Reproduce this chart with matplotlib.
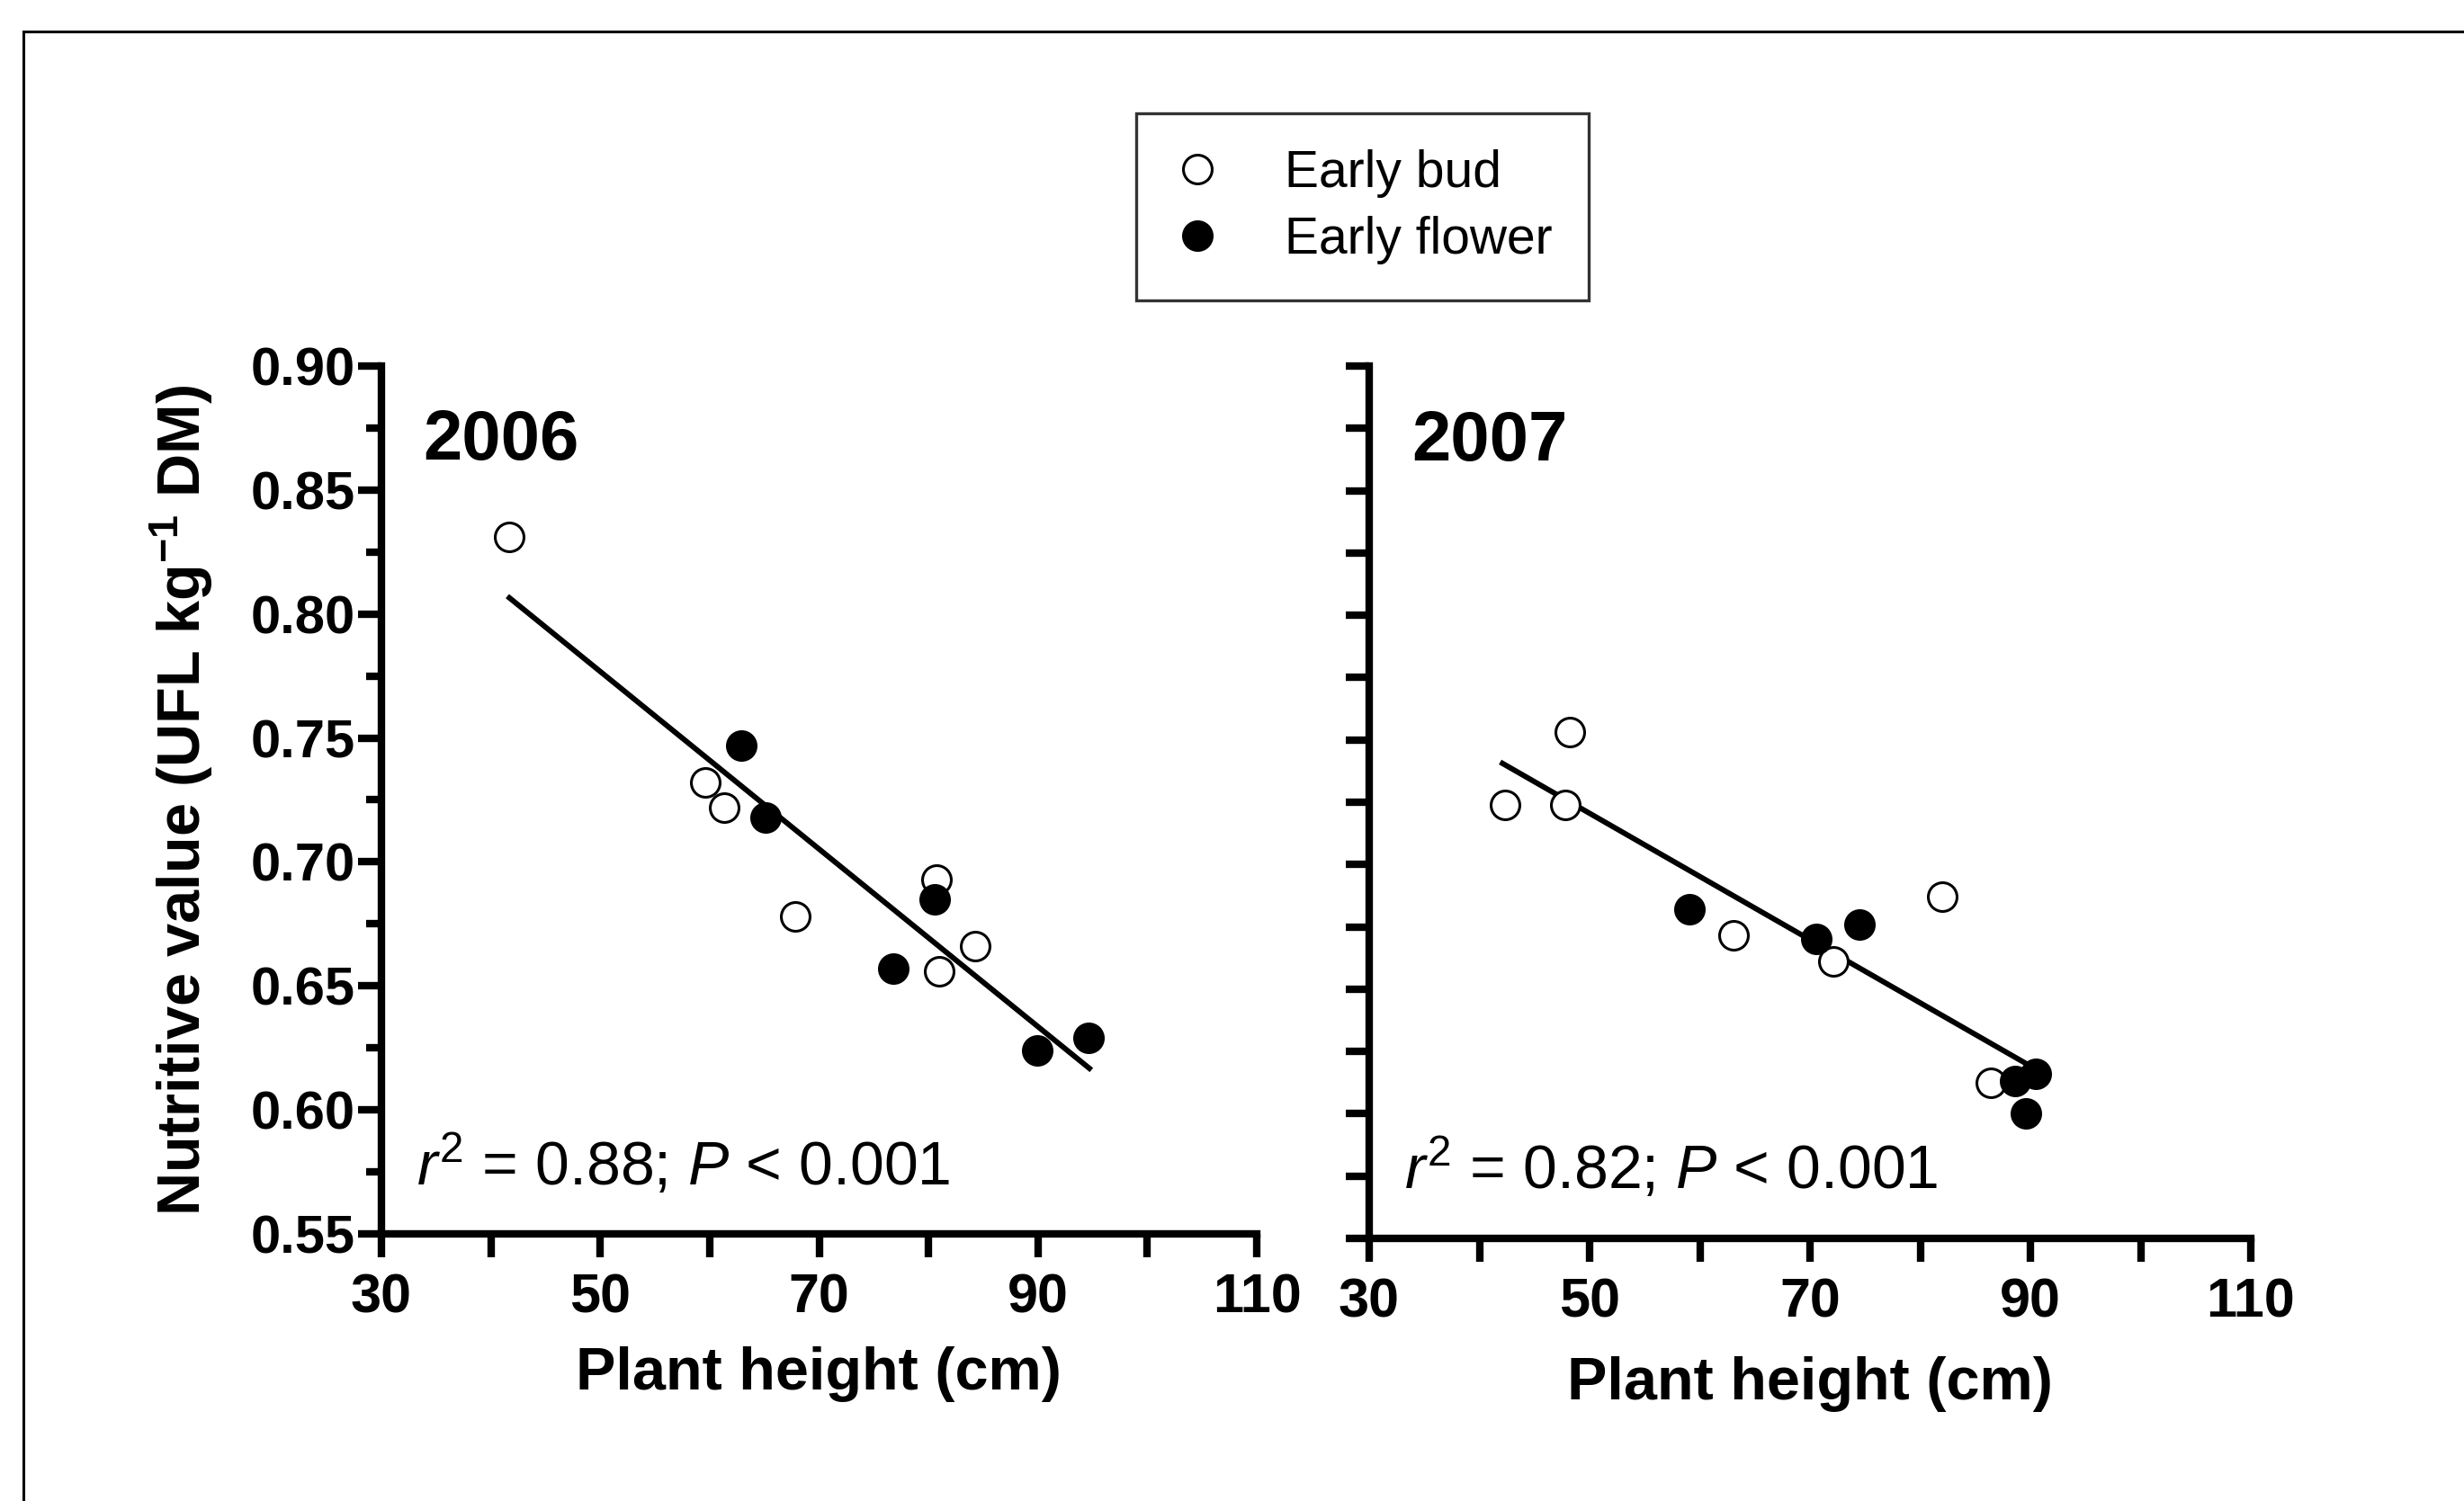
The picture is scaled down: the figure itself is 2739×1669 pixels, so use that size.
import matplotlib
matplotlib.use("Agg")
import numpy as np
import matplotlib.pyplot as plt
from matplotlib import font_manager
from matplotlib.lines import Line2D
from matplotlib.ticker import MultipleLocator


# =========================
# Data
# =========================
bud06_x = [41.7, 59.6, 61.3, 67.8, 80.7, 81.0, 84.3]
bud06_y = [0.831, 0.732, 0.722, 0.678, 0.693, 0.656, 0.666]
flw06_x = [62.9, 65.1, 76.8, 80.6, 89.9, 94.6]
flw06_y = [0.747, 0.718, 0.657, 0.685, 0.624, 0.629]

bud07_x = [42.3, 48.2, 47.8, 63.1, 72.1, 82.0, 86.4]
bud07_y = [0.724, 0.753, 0.724, 0.6715, 0.661, 0.687, 0.6125]
flw07_x = [59.1, 70.6, 74.5, 88.6, 90.5, 89.6]
flw07_y = [0.682, 0.670, 0.676, 0.613, 0.616, 0.600]

# regression lines: slope, intercept, x range
fit06 = [-0.00358, 0.9558]
fit06_x = [41.7, 94.7]
fit07 = [-0.002535, 0.8473]
fit07_x = [42.1, 89.6]

years = ["2006", "2007"]
stats = [r"$\mathit{r}^2$ = 0.88; $\mathit{P}$ < 0.001",
         r"$\mathit{r}^2$ = 0.82; $\mathit{P}$ < 0.001"]
x_ticks = [30, 50, 70, 90, 110]
y_ticks = [0.55, 0.60, 0.65, 0.70, 0.75, 0.80, 0.85, 0.90]


# =========================
# Style
# =========================
names = {f.name for f in font_manager.fontManager.ttflist}
narrow = "Liberation Sans Narrow" if "Liberation Sans Narrow" in names else "Liberation Sans"

plt.rcParams.update({
    "font.family": ["Liberation Sans", "DejaVu Sans"],
    "mathtext.fontset": "custom",
    "mathtext.rm": "Liberation Sans",
    "mathtext.it": "Liberation Sans:italic",
    "mathtext.bf": "Liberation Sans:bold",
})

W, H = 2739, 1669
fig = plt.figure(figsize=(W / 100, H / 100), dpi=100)

# outer frame (only top/left edge visible in the original crop)
fx, fy = 26 / W, 1 - 35 / H
fig.add_artist(Line2D([fx, fx], [0, fy], color="black", lw=2.2, transform=fig.transFigure))
fig.add_artist(Line2D([fx, 1.0], [fy, fy], color="black", lw=2.2, transform=fig.transFigure))

ax1 = fig.add_axes([424 / W, 1 - 1372 / H, (1397 - 424) / W, (1372 - 407) / H])
ax2 = fig.add_axes([1522 / W, 1 - 1377 / H, (2502 - 1522) / W, (1377 - 407) / H])

panels = [
    (ax1, bud06_x, bud06_y, flw06_x, flw06_y, fit06, fit06_x),
    (ax2, bud07_x, bud07_y, flw07_x, flw07_y, fit07, fit07_x),
]

ms = 23
for i, (ax, bx, by, fxs, fys, fit, fit_x) in enumerate(panels):
    xs = np.array(fit_x)
    ax.plot(xs, fit[0] * xs + fit[1], color="black", lw=4.3, zorder=2)
    ax.plot(bx, by, "o", ms=ms, mfc="white", mec="black", mew=2.2,
            ls="none", label="Early bud", zorder=3, clip_on=False)
    ax.plot(fxs, fys, "o", ms=ms, mfc="black", mec="black", mew=2.2,
            ls="none", label="Early flower", zorder=3, clip_on=False)

    ax.set_xlim(30, 110)
    ax.set_ylim(0.55, 0.90)
    for s in ["top", "right"]:
        ax.spines[s].set_visible(False)
    for s in ["left", "bottom"]:
        ax.spines[s].set_linewidth(6)

    ax.set_xticks(x_ticks)
    ax.xaxis.set_minor_locator(MultipleLocator(10))
    ax.set_yticks(y_ticks)
    ax.yaxis.set_minor_locator(MultipleLocator(0.025))
    ax.tick_params(axis="x", which="both", direction="out", length=19, width=6,
                   pad=12, labelsize=44)
    ax.tick_params(axis="y", which="major", direction="out", length=19, width=6,
                   pad=2, labelsize=43)
    ax.tick_params(axis="y", which="minor", direction="out",
                   length=12 if i == 0 else 19, width=6)
    for lab in ax.get_xticklabels() + ax.get_yticklabels():
        lab.set_fontweight("bold")
    if i == 0:
        ax.set_yticklabels([f"{v:.2f}" for v in y_ticks], fontweight="bold")
    else:
        ax.set_yticklabels([])

    ax.set_xlabel("Plant height (cm)", fontsize=48, fontweight="bold")
    ax.xaxis.set_label_coords(0.5, -0.13 if i == 0 else -0.135)

    ax.text(0.048, 0.913, years[i], transform=ax.transAxes, fontsize=56,
            fontweight="bold", ha="left", va="center")
    ax.text(0.04, 0.079, stats[i], transform=ax.transAxes, fontsize=49,
            ha="left", va="center")

ax1.set_ylabel(r"Nutritive value (UFL kg$^{\mathbf{-1}}$ DM)", fontsize=48,
               fontweight="bold", family=[narrow, "Liberation Sans"])
ax1.yaxis.set_label_coords(-0.19, 0.5)

h, l = ax1.get_legend_handles_labels()
leg = fig.legend(h, l, loc="upper left", bbox_to_anchor=(1263 / W, 1 - 126 / H),
                 borderaxespad=0, fontsize=41, frameon=True, fancybox=False,
                 edgecolor="black", borderpad=0.7, labelspacing=0.35,
                 handlelength=1.0, handletextpad=1.2, markerscale=1.0)
leg.get_frame().set_linewidth(2.4)

fig.savefig("out.png", dpi=100, facecolor="white")
